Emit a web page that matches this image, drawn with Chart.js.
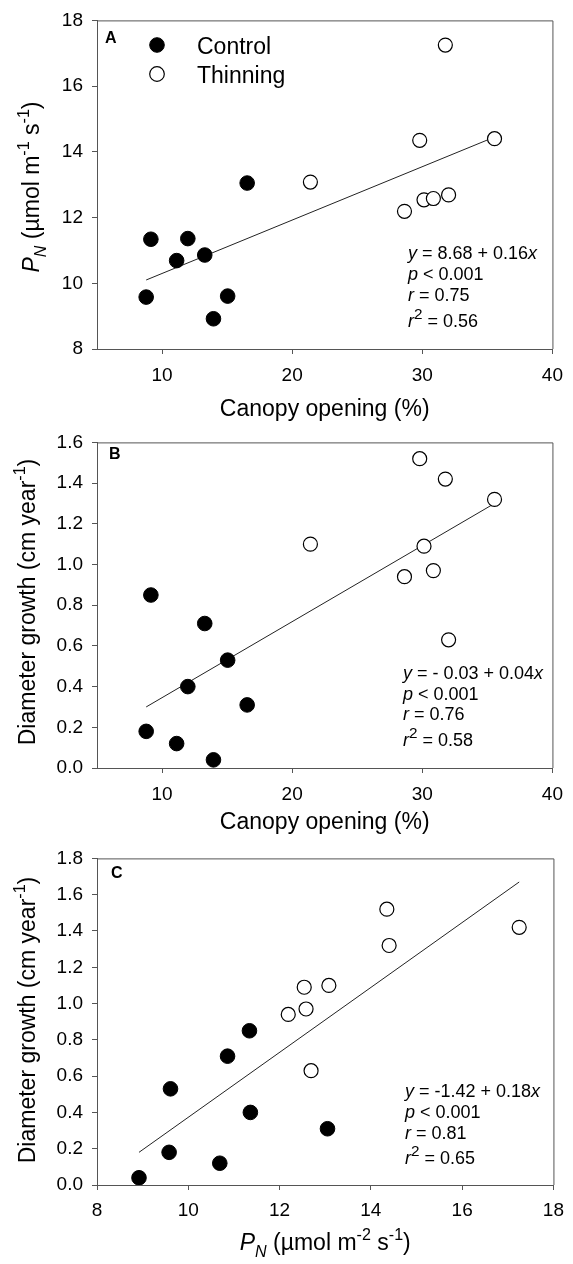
<!DOCTYPE html>
<html>
<head>
<meta charset="utf-8">
<script src="https://cdn.jsdelivr.net/npm/chart.js@4.4.1/dist/chart.umd.min.js"></script>
<style>
    body { margin: 0; background: #fff; }
    .wrap { position: relative; width: 573px; height: 1264px; }
    canvas { position: absolute; left: 0; }
</style>
</head>
<body>
<div class="wrap">
    <canvas id="chart-a" width="573" height="422" style="top:0px"></canvas>
    <canvas id="chart-b" width="573" height="416" style="top:422px"></canvas>
    <canvas id="chart-c" width="573" height="426" style="top:838px"></canvas>
</div>

<script>
    // data (same 8 control + 8 thinning plots in every panel)
    const canopy_control = [8.78, 9.14, 11.12, 11.98, 13.28, 13.95, 15.04, 16.54];
    const pn_control = [9.58, 11.34, 10.69, 11.36, 10.86, 8.92, 9.61, 13.05];
    const growth_control = [0.18, 0.85, 0.12, 0.40, 0.71, 0.04, 0.53, 0.31];

    const canopy_thinning = [21.40, 28.63, 29.80, 30.13, 30.85, 31.77, 32.02, 35.55];
    const pn_thinning = [13.08, 12.19, 14.35, 12.54, 12.58, 17.25, 12.69, 14.40];
    const growth_thinning = [1.10, 0.94, 1.52, 1.09, 0.97, 1.42, 0.63, 1.32];

    // regression line end points
    const fit_a_x = [8.78, 35.55];
    const fit_a_y = [10.10, 14.45];
    const fit_b_x = [8.78, 35.55];
    const fit_b_y = [0.30, 1.30];
    const fit_c_x = [8.92, 17.25];
    const fit_c_y = [0.18, 1.67];

    // tick labels
    const canopy_ticks = [10, 20, 30, 40];
    const pn_ticks = [8, 10, 12, 14, 16, 18];
    const growth_ticks_b = [0, 0.2, 0.4, 0.6, 0.8, 1.0, 1.2, 1.4, 1.6];
    const growth_ticks_c = [0, 0.2, 0.4, 0.6, 0.8, 1.0, 1.2, 1.4, 1.6, 1.8];

    const series_names = ['Control', 'Thinning'];

    const FONT = '"Liberation Sans", Arial, Helvetica, sans-serif';
    const AXIS_COLOR = '#555';

    function pairs(xs, ys) {
        return xs.map((x, i) => ({ x: x, y: ys[i] }));
    }

    function seg_font(sg, size) {
        let s = (sg.sup || sg.sub) ? size * (sg.scale || 0.7) : size;
        return (sg.i ? 'italic ' : '') + (sg.b ? 'bold ' : '') + s + 'px ' + FONT;
    }

    function rich_width(ctx, segs, size) {
        let w = 0;
        segs.forEach(sg => {
            ctx.font = seg_font(sg, size);
            w += ctx.measureText(sg.t).width;
        });
        return w;
    }

    // draw text with italic / sub / superscript pieces
    function draw_rich(ctx, segs, x, y, size, align) {
        let cx = align === 'center' ? x - rich_width(ctx, segs, size) / 2 : x;
        ctx.textAlign = 'left';
        ctx.textBaseline = 'alphabetic';
        segs.forEach(sg => {
            ctx.font = seg_font(sg, size);
            let dy = sg.sup ? -size * 0.42 : (sg.sub ? size * 0.3 : 0);
            ctx.fillText(sg.t, cx, y + dy);
            cx += ctx.measureText(sg.t).width;
        });
    }

    const panel_text_plugin = {
        id: 'panelText',
        afterDraw(chart, args, opts) {
            const ctx = chart.ctx;
            const area = chart.chartArea;
            const top = opts.offset;
            ctx.save();

            // top and right frame lines
            ctx.strokeStyle = AXIS_COLOR;
            ctx.lineWidth = 1;
            ctx.beginPath();
            ctx.moveTo(area.left, area.top + 0.5);
            ctx.lineTo(area.right + 0.5, area.top + 0.5);
            ctx.lineTo(area.right + 0.5, area.bottom);
            ctx.stroke();

            ctx.fillStyle = '#000';

            // panel letter
            ctx.font = 'bold 16px ' + FONT;
            ctx.textAlign = 'left';
            ctx.textBaseline = 'alphabetic';
            ctx.fillText(opts.letter, opts.letter_pos[0], opts.letter_pos[1] - top);

            // x axis title
            draw_rich(ctx, opts.x_title, (area.left + area.right) / 2, opts.x_title_y - top, 23, 'center');

            // y axis title
            ctx.save();
            ctx.translate(opts.y_title_pos[0], opts.y_title_pos[1] - top);
            ctx.rotate(-Math.PI / 2);
            draw_rich(ctx, opts.y_title, 0, 0, 23, 'center');
            ctx.restore();

            // regression statistics
            opts.stats.forEach((line, i) => {
                draw_rich(ctx, line, opts.stats_pos[0], opts.stats_pos[1][i] - top, 18, 'left');
            });

            // legend
            if (opts.legend) {
                const rows = [[45, 54], [74, 83]];
                series_names.forEach((name, i) => {
                    const ds = chart.data.datasets[i];
                    ctx.beginPath();
                    ctx.arc(157, rows[i][0] - top, 7.3, 0, Math.PI * 2);
                    ctx.fillStyle = ds.backgroundColor;
                    ctx.fill();
                    ctx.lineWidth = ds.borderWidth;
                    ctx.strokeStyle = ds.borderColor;
                    ctx.stroke();
                    ctx.fillStyle = '#000';
                    ctx.font = '23px ' + FONT;
                    ctx.textAlign = 'left';
                    ctx.textBaseline = 'alphabetic';
                    ctx.fillText(name, 197, rows[i][1] - top);
                });
            }
            ctx.restore();
        }
    };

    function make_chart(canvas_id, cfg) {
        const datasets = [
            {
                label: series_names[0],
                data: cfg.control,
                backgroundColor: '#000',
                borderColor: '#000',
                borderWidth: 1,
                pointRadius: 7.3,
                pointHoverRadius: 7.3,
                order: 0
            },
            {
                label: series_names[1],
                data: cfg.thinning,
                backgroundColor: '#fff',
                borderColor: '#000',
                borderWidth: 1.2,
                pointRadius: 7,
                pointHoverRadius: 7,
                order: 1
            },
            {
                label: 'fit',
                data: cfg.fit,
                showLine: true,
                borderColor: '#222',
                borderWidth: 1,
                pointRadius: 0,
                fill: false,
                order: 2
            }
        ];

        const tick_font = { family: FONT, size: 19 };

        return new Chart(document.getElementById(canvas_id), {
            type: 'scatter',
            data: { datasets: datasets },
            plugins: [panel_text_plugin],
            options: {
                responsive: false,
                animation: false,
                events: [],
                layout: { padding: { left: 0, top: cfg.pad_top, right: 16, bottom: 0 } },
                plugins: {
                    legend: { display: false },
                    tooltip: { enabled: false },
                    panelText: cfg.text
                },
                scales: {
                    x: {
                        type: 'linear',
                        min: cfg.x_range[0],
                        max: cfg.x_range[1],
                        afterBuildTicks: s => { s.ticks = cfg.x_ticks.map(v => ({ value: v })); },
                        afterFit: s => { s.height = cfg.x_height; },
                        grid: { drawOnChartArea: false, color: AXIS_COLOR, tickLength: 5 },
                        border: { color: AXIS_COLOR, width: 1 },
                        ticks: { color: '#000', font: tick_font, padding: cfg.x_pad, autoSkip: false, maxRotation: 0 }
                    },
                    y: {
                        type: 'linear',
                        min: cfg.y_range[0],
                        max: cfg.y_range[1],
                        afterBuildTicks: s => { s.ticks = cfg.y_ticks.map(v => ({ value: v })); },
                        afterFit: s => { s.width = 97; },
                        grid: { drawOnChartArea: false, color: AXIS_COLOR, tickLength: 5 },
                        border: { color: AXIS_COLOR, width: 1 },
                        ticks: {
                            color: '#000',
                            font: tick_font,
                            padding: 9,
                            autoSkip: false,
                            callback: v => cfg.y_decimals ? v.toFixed(cfg.y_decimals) : String(v)
                        }
                    }
                }
            }
        });
    }

    const canopy_title = [{ t: 'Canopy opening (%)' }];
    const growth_title = [{ t: 'Diameter growth (cm year' }, { t: '-1', sup: 1 }, { t: ')' }];

    // panel A
    make_chart('chart-a', {
        control: pairs(canopy_control, pn_control),
        thinning: pairs(canopy_thinning, pn_thinning),
        fit: pairs(fit_a_x, fit_a_y),
        x_range: [5, 40], y_range: [8, 18],
        x_ticks: canopy_ticks, y_ticks: pn_ticks, y_decimals: 0,
        pad_top: 19, x_height: 73, x_pad: 10,
        text: {
            offset: 0,
            letter: 'A', letter_pos: [105, 43],
            legend: true,
            x_title: canopy_title, x_title_y: 416,
            y_title: [{ t: 'P', i: 1 }, { t: 'N', i: 1, sub: 1 }, { t: ' (\u00b5mol m' }, { t: '-1', sup: 1 },
                      { t: ' s' }, { t: '-1', sup: 1 }, { t: ')' }],
            y_title_pos: [39, 187],
            stats_pos: [408, [259, 280, 301, 327]],
            stats: [
                [{ t: 'y', i: 1 }, { t: ' = 8.68 + 0.16' }, { t: 'x', i: 1 }],
                [{ t: 'p', i: 1 }, { t: ' < 0.001' }],
                [{ t: 'r', i: 1 }, { t: ' = 0.75' }],
                [{ t: 'r', i: 1 }, { t: '2', sup: 1, scale: 0.85 }, { t: ' = 0.56' }]
            ]
        }
    });

    // panel B
    make_chart('chart-b', {
        control: pairs(canopy_control, growth_control),
        thinning: pairs(canopy_thinning, growth_thinning),
        fit: pairs(fit_b_x, fit_b_y),
        x_range: [5, 40], y_range: [0, 1.6],
        x_ticks: canopy_ticks, y_ticks: growth_ticks_b, y_decimals: 1,
        pad_top: 15, x_height: 70, x_pad: 10,
        text: {
            offset: 422,
            letter: 'B', letter_pos: [109, 459],
            legend: false,
            x_title: canopy_title, x_title_y: 829,
            y_title: growth_title,
            y_title_pos: [35, 602],
            stats_pos: [403, [679, 700, 720, 746]],
            stats: [
                [{ t: 'y', i: 1 }, { t: ' = - 0.03 + 0.04' }, { t: 'x', i: 1 }],
                [{ t: 'p', i: 1 }, { t: ' < 0.001' }],
                [{ t: 'r', i: 1 }, { t: ' = 0.76' }],
                [{ t: 'r', i: 1 }, { t: '2', sup: 1, scale: 0.85 }, { t: ' = 0.58' }]
            ]
        }
    });

    // panel C
    make_chart('chart-c', {
        control: pairs(pn_control, growth_control),
        thinning: pairs(pn_thinning, growth_thinning),
        fit: pairs(fit_c_x, fit_c_y),
        x_range: [8, 18], y_range: [0, 1.8],
        x_ticks: pn_ticks, y_ticks: growth_ticks_c, y_decimals: 1,
        pad_top: 16, x_height: 79, x_pad: 9,
        text: {
            offset: 838,
            letter: 'C', letter_pos: [111, 878],
            legend: false,
            x_title: [{ t: 'P', i: 1 }, { t: 'N', i: 1, sub: 1 }, { t: ' (\u00b5mol m' }, { t: '-2', sup: 1 },
                      { t: ' s' }, { t: '-1', sup: 1 }, { t: ')' }],
            x_title_y: 1250,
            y_title: growth_title,
            y_title_pos: [35, 1020],
            stats_pos: [405, [1097, 1118, 1139, 1164]],
            stats: [
                [{ t: 'y', i: 1 }, { t: ' = -1.42 + 0.18' }, { t: 'x', i: 1 }],
                [{ t: 'p', i: 1 }, { t: ' < 0.001' }],
                [{ t: 'r', i: 1 }, { t: ' = 0.81' }],
                [{ t: 'r', i: 1 }, { t: '2', sup: 1, scale: 0.85 }, { t: ' = 0.65' }]
            ]
        }
    });
</script>
</body>
</html>
